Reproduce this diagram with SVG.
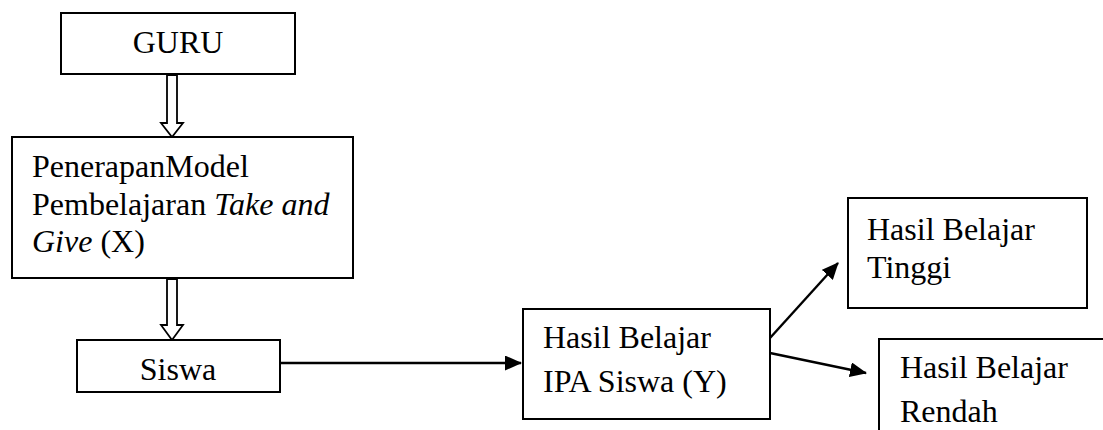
<svg xmlns="http://www.w3.org/2000/svg" width="1103" height="430" viewBox="0 0 1103 430">
<style>
.box{fill:#fff;stroke:#000;stroke-width:2}
.t{font-family:"Liberation Serif","Times New Roman",serif;font-size:32px;fill:#000}
.c{text-anchor:middle}
.i{font-style:italic}
.hollow{fill:#fff;stroke:#000;stroke-width:1.8;stroke-linejoin:miter}
.line{stroke:#000;stroke-width:2.4;fill:none}
</style>
<defs>
<marker id="ah" markerWidth="17" markerHeight="15" refX="16" refY="7.5" orient="auto" markerUnits="userSpaceOnUse">
<path d="M0,0 L17,7.5 L0,15 Z" fill="#000"/>
</marker>
</defs>
<rect width="1103" height="430" fill="#fff"/>
<g id="connectors">
<polygon class="hollow" points="167,75 177,75 177,123 183,123 172,137 161,123 167,123"/>
<polygon class="hollow" points="167,279 177,279 177,325 183,325 172,340 161,325 167,325"/>
<line class="line" x1="280" y1="363" x2="521" y2="363" marker-end="url(#ah)"/>
<line class="line" x1="770" y1="338" x2="838" y2="263" marker-end="url(#ah)"/>
<line class="line" x1="770" y1="353" x2="866" y2="373" marker-end="url(#ah)"/>
</g>
<g id="guru">
<rect class="box" x="61" y="13" width="234" height="61"/>
<text class="t c" x="178" y="53">GURU</text>
</g>
<g id="penerapan">
<rect class="box" x="12" y="137" width="341" height="141"/>
<text class="t" x="32" y="177">PenerapanModel</text>
<text class="t" x="32" y="215">Pembelajaran <tspan class="i">Take and</tspan></text>
<text class="t" x="32" y="252"><tspan class="i">Give</tspan> (X)</text>
</g>
<g id="siswa">
<rect class="box" x="77" y="340" width="203" height="52"/>
<text class="t c" x="178" y="380">Siswa</text>
</g>
<g id="hasil-ipa">
<rect class="box" x="523" y="309" width="247" height="110"/>
<text class="t" x="543" y="348">Hasil Belajar</text>
<text class="t" x="543" y="392">IPA Siswa (Y)</text>
</g>
<g id="tinggi">
<rect class="box" x="848" y="198" width="239" height="110"/>
<text class="t" x="867" y="240">Hasil Belajar</text>
<text class="t" x="867" y="278">Tinggi</text>
</g>
<g id="rendah">
<rect class="box" x="879" y="339" width="240" height="110"/>
<text class="t" x="900" y="378">Hasil Belajar</text>
<text class="t" x="900" y="422">Rendah</text>
</g>
</svg>
